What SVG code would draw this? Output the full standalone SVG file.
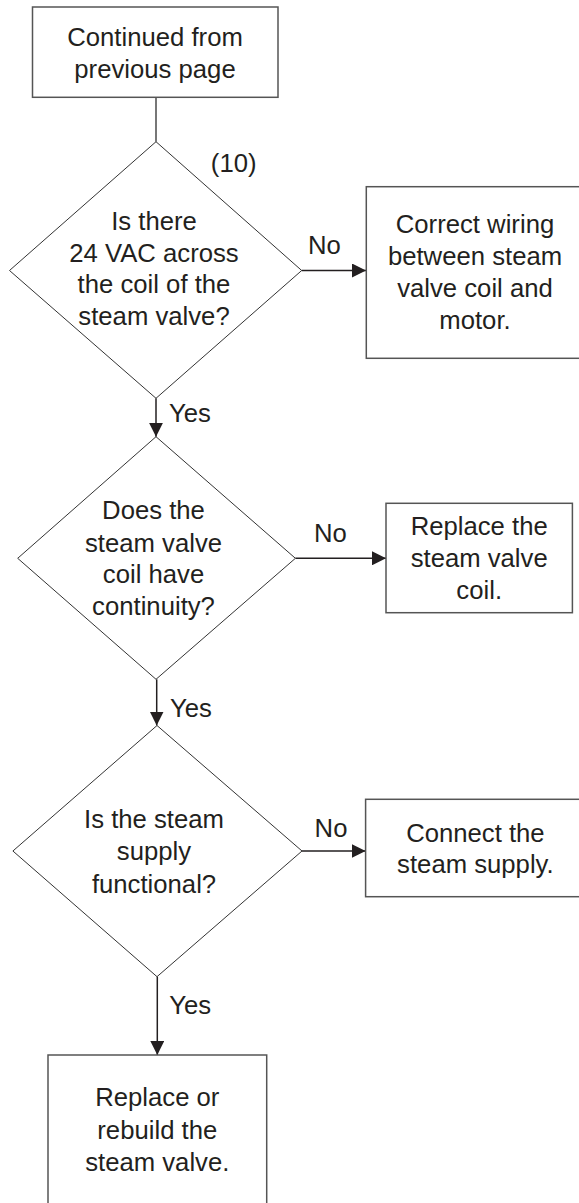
<svg xmlns="http://www.w3.org/2000/svg" width="579" height="1203" viewBox="0 0 579 1203">
<style>
  .box { fill: #ffffff; stroke: #555555; stroke-width: 1.5; }
  .dia { fill: #ffffff; stroke: #333333; stroke-width: 1; }
  .t { font-family: "Liberation Sans", Arial, sans-serif; font-size: 25.7px; fill: #231f20; text-anchor: middle; }
  .lbl { font-family: "Liberation Sans", Arial, sans-serif; font-size: 25.7px; fill: #231f20; text-anchor: start; }
  .con { fill: none; stroke: #231f20; stroke-width: 1.5; }
  .plain { fill: none; stroke: #777777; stroke-width: 2; }
</style>
<defs>
  <marker id="arrow" markerUnits="userSpaceOnUse" markerWidth="14" markerHeight="14" refX="14" refY="7" orient="auto">
    <path d="M0,0 L14,7 L0,14 z" fill="#231f20"/>
  </marker>
</defs>
<rect x="0" y="0" width="579" height="1203" fill="#ffffff"/>

<g id="connectors">
  <line class="plain" x1="156" y1="97.5" x2="156" y2="141.7"/>
  <line class="con" x1="301.7" y1="270.5" x2="366" y2="270.5" marker-end="url(#arrow)"/>
  <line class="con" x1="156" y1="398.3" x2="156" y2="436.7" marker-end="url(#arrow)"/>
  <line class="con" x1="295.4" y1="558.3" x2="386" y2="558.3" marker-end="url(#arrow)"/>
  <line class="con" x1="156.7" y1="679.3" x2="156.7" y2="725.5" marker-end="url(#arrow)"/>
  <line class="con" x1="302" y1="851" x2="365.6" y2="851" marker-end="url(#arrow)"/>
  <line class="con" x1="157.3" y1="976.7" x2="157.3" y2="1055" marker-end="url(#arrow)"/>
  <text class="lbl" x="308" y="254">No</text>
  <text class="lbl" x="169" y="421.7">Yes</text>
  <text class="lbl" x="314" y="541.7">No</text>
  <text class="lbl" x="170" y="716.7">Yes</text>
  <text class="lbl" x="314.6" y="837.3">No</text>
  <text class="lbl" x="169.3" y="1014">Yes</text>
</g>

<g id="start">
  <rect class="box" x="32.5" y="7" width="245.5" height="90.3"/>
  <text class="t" x="155" y="46">Continued from</text>
  <text class="t" x="155" y="78">previous page</text>
</g>

<g id="decision1">
  <polygon class="dia" points="156,141.7 301.7,270.5 156,398.3 9.5,270.5"/>
  <text class="t" x="233.7" y="172">(10)</text>
  <text class="t" x="154" y="230">Is there</text>
  <text class="t" x="154" y="261.7">24 VAC across</text>
  <text class="t" x="154" y="293.3">the coil of the</text>
  <text class="t" x="154" y="325">steam valve?</text>
</g>

<g id="fix1">
  <rect class="box" x="366.3" y="186.7" width="220" height="171.6"/>
  <text class="t" x="475" y="233">Correct wiring</text>
  <text class="t" x="475" y="265">between steam</text>
  <text class="t" x="475" y="297">valve coil and</text>
  <text class="t" x="475" y="329">motor.</text>
</g>

<g id="decision2">
  <polygon class="dia" points="156,436.7 295.4,558.3 156,679.3 17.7,558.3"/>
  <text class="t" x="153.5" y="519">Does the</text>
  <text class="t" x="153.5" y="551.7">steam valve</text>
  <text class="t" x="153.5" y="583.3">coil have</text>
  <text class="t" x="153.5" y="615">continuity?</text>
</g>

<g id="fix2">
  <rect class="box" x="386" y="503.3" width="186.4" height="109.4"/>
  <text class="t" x="479.2" y="535">Replace the</text>
  <text class="t" x="479.2" y="566.7">steam valve</text>
  <text class="t" x="479.2" y="599">coil.</text>
</g>

<g id="decision3">
  <polygon class="dia" points="157,725.5 302,851 157,976.7 12.9,851"/>
  <text class="t" x="154" y="828.3">Is the steam</text>
  <text class="t" x="154" y="860">supply</text>
  <text class="t" x="154" y="892.7">functional?</text>
</g>

<g id="fix3">
  <rect class="box" x="365.6" y="799.3" width="220" height="97.4"/>
  <text class="t" x="475.4" y="841.7">Connect the</text>
  <text class="t" x="475.4" y="872.7">steam supply.</text>
</g>

<g id="final">
  <rect class="box" x="48" y="1055" width="218.7" height="160"/>
  <text class="t" x="157.3" y="1106">Replace or</text>
  <text class="t" x="157.3" y="1138.5">rebuild the</text>
  <text class="t" x="157.3" y="1171">steam valve.</text>
</g>
</svg>
